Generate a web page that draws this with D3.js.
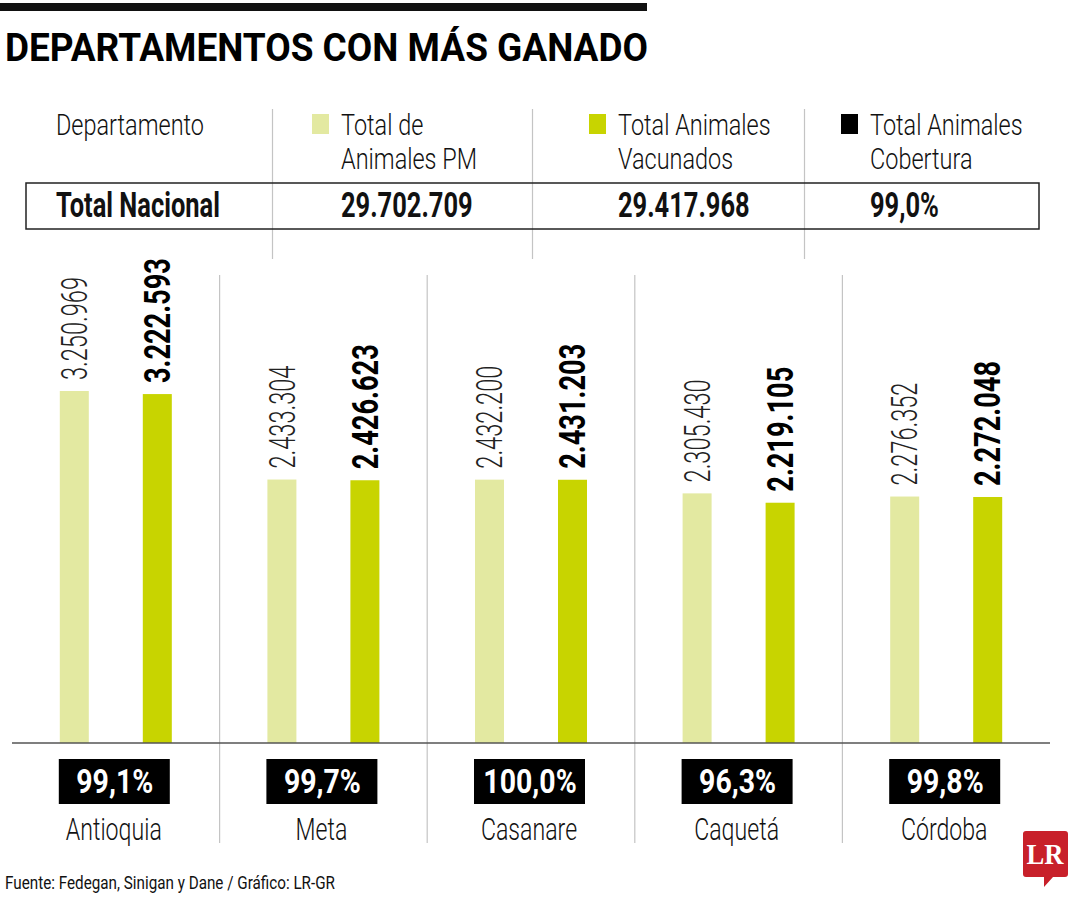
<!DOCTYPE html>
<html>
<head>
<meta charset="utf-8">
<script src="https://cdn.jsdelivr.net/npm/d3@7"></script>
<style>
  body { margin: 0; background: #fff; }
  svg { display: block; font-family: Roboto, "Open Sans", sans-serif; }
</style>
</head>
<body>
<script>
const departamentos = ["Antioquia", "Meta", "Casanare", "Caquetá", "Córdoba"];
const totalPM = [3250969, 2433304, 2432200, 2305430, 2276352];
const totalVacunados = [3222593, 2426623, 2431203, 2219105, 2272048];
const cobertura = ["99,1%", "99,7%", "100,0%", "96,3%", "99,8%"];
const series = ["Total de Animales PM", "Total Animales Vacunados"];
const headers = [["Departamento"], ["Total de", "Animales PM"], ["Total Animales", "Vacunados"], ["Total Animales", "Cobertura"]];
const totalNacional = ["Total Nacional", "29.702.709", "29.417.968", "99,0%"];

const colors = ["#e3e9a1", "#c8d400", "#000"];
const width = 1080, height = 900;

const fmt = d3.formatLocale({ decimal: ",", thousands: ".", grouping: [3], currency: ["$", ""] }).format(",d");

const svg = d3.select("body").append("svg")
  .attr("width", width)
  .attr("height", height);

// squeeze a selection of texts so the first one gets the given width
function condense(sel, firstWidth) {
  const k = firstWidth / sel.node().getComputedTextLength();
  sel.each(function () {
    const w = this.getComputedTextLength();
    d3.select(this).attr("textLength", w * k).attr("lengthAdjust", "spacingAndGlyphs");
  });
}

// title
svg.append("rect").attr("x", 0).attr("y", 3).attr("width", 647).attr("height", 8).attr("fill", "#111");
svg.append("text")
  .attr("x", 5).attr("y", 61)
  .style("font-size", "39px").style("font-weight", 700)
  .attr("textLength", 643).attr("lengthAdjust", "spacingAndGlyphs")
  .text("DEPARTAMENTOS CON MÁS GANADO");

// header table
const colX = d3.scaleOrdinal().domain(d3.range(4)).range([56, 341, 618, 870]);

const head = svg.append("g");
head.selectAll("line.sep").data([272.5, 532.5, 804.5]).enter().append("line")
  .attr("class", "sep")
  .attr("x1", d => d).attr("x2", d => d)
  .attr("y1", 109).attr("y2", 259)
  .attr("stroke", "#c4c4c4").attr("stroke-width", 1.2);

const headTexts = head.selectAll("g.col").data(headers).enter().append("g")
  .attr("class", "col")
  .selectAll("text").data((d, i) => d.map(t => ({ t, i }))).enter().append("text")
  .attr("x", d => colX(d.i))
  .attr("y", (d, j) => 135 + 34 * j)
  .style("font-size", "30px").style("font-weight", 300).attr("fill", "#111")
  .text(d => d.t);
condense(headTexts, 148);

head.selectAll("rect.sw").data(colors).enter().append("rect")
  .attr("class", "sw")
  .attr("x", (d, i) => colX(i + 1) - 29)
  .attr("y", 114).attr("width", 17).attr("height", 20)
  .attr("fill", d => d);

head.append("rect")
  .attr("x", 26).attr("y", 183).attr("width", 1013).attr("height", 46)
  .attr("fill", "none").attr("stroke", "#222").attr("stroke-width", 1.5);

const totTexts = head.selectAll("text.tot").data(totalNacional).enter().append("text")
  .attr("class", "tot")
  .attr("x", (d, i) => colX(i)).attr("y", 217)
  .style("font-size", "35px").style("font-weight", 700).attr("fill", "#111")
  .text(d => d);
condense(totTexts, 164);

// chart
const x0 = d3.scaleBand().domain(departamentos).range([12, 1050]);
const x1 = d3.scalePoint().domain(series).range([-41.5, 41.5]);
const y = d3.scaleLinear().domain([0, d3.max(totalPM)]).range([743, 391]);
const barW = 29;

const rows = departamentos.map((d, i) => ({
  dep: d,
  cob: cobertura[i],
  values: [{ key: series[0], v: totalPM[i] }, { key: series[1], v: totalVacunados[i] }]
}));

svg.selectAll("line.div").data(departamentos.slice(1)).enter().append("line")
  .attr("class", "div")
  .attr("x1", d => x0(d)).attr("x2", d => x0(d))
  .attr("y1", 275).attr("y2", 843)
  .attr("stroke", "#c4c4c4").attr("stroke-width", 1.2);

const grp = svg.selectAll("g.dep").data(rows).enter().append("g")
  .attr("class", "dep")
  .attr("transform", d => `translate(${x0(d.dep) + x0.bandwidth() / 2},0)`);

grp.selectAll("rect.bar").data(d => d.values).enter().append("rect")
  .attr("class", "bar")
  .attr("x", d => x1(d.key) - barW / 2)
  .attr("y", d => y(d.v))
  .attr("width", barW)
  .attr("height", d => y(0) - y(d.v))
  .attr("fill", (d, i) => colors[i]);

grp.selectAll("text.val").data(d => d.values).enter().append("text")
  .attr("class", "val")
  .attr("transform", d => `translate(${x1(d.key)},${y(d.v) - 11}) rotate(-90)`)
  .attr("dy", "0.35em")
  .style("font-size", "36px")
  .style("font-weight", (d, i) => i ? 700 : 300)
  .attr("fill", (d, i) => i ? "#000" : "#222")
  .attr("textLength", (d, i) => i ? 125 : 103)
  .attr("lengthAdjust", "spacingAndGlyphs")
  .text(d => fmt(d.v));

svg.append("line")
  .attr("x1", 12).attr("x2", 1050)
  .attr("y1", y(0)).attr("y2", y(0))
  .attr("stroke", "#555").attr("stroke-width", 1.5);

grp.append("rect")
  .attr("x", -57).attr("y", 759).attr("width", 111).attr("height", 45)
  .attr("fill", "#000");

const pct = grp.append("text")
  .attr("x", -1).attr("y", 793)
  .attr("text-anchor", "middle")
  .style("font-size", "34px").style("font-weight", 700).attr("fill", "#fff")
  .text(d => d.cob);
condense(pct, 77);

const names = grp.append("text")
  .attr("x", -2).attr("y", 840)
  .attr("text-anchor", "middle")
  .style("font-size", "32px").style("font-weight", 300).attr("fill", "#111")
  .text(d => d.dep);
condense(names, 96);

// footer
svg.append("text")
  .attr("x", 5).attr("y", 889)
  .style("font-size", "19px").attr("fill", "#111")
  .attr("textLength", 330).attr("lengthAdjust", "spacingAndGlyphs")
  .text("Fuente: Fedegan, Sinigan y Dane / Gráfico: LR-GR");

// logo
const logo = svg.append("g");
logo.append("path")
  .attr("d", "M1026,831 H1065 Q1068,831 1068,834 V874 Q1068,877 1065,877 H1053 L1044,887 V877 H1026 Q1023,877 1023,874 V834 Q1023,831 1026,831 Z")
  .attr("fill", "#c8202a");
logo.append("text")
  .attr("x", 1045).attr("y", 864)
  .attr("text-anchor", "middle")
  .style("font-family", "'Liberation Serif', 'DejaVu Serif', serif")
  .style("font-size", "29px").style("font-weight", 700).attr("fill", "#fff")
  .attr("textLength", 37).attr("lengthAdjust", "spacingAndGlyphs")
  .text("LR");
</script>
</body>
</html>
